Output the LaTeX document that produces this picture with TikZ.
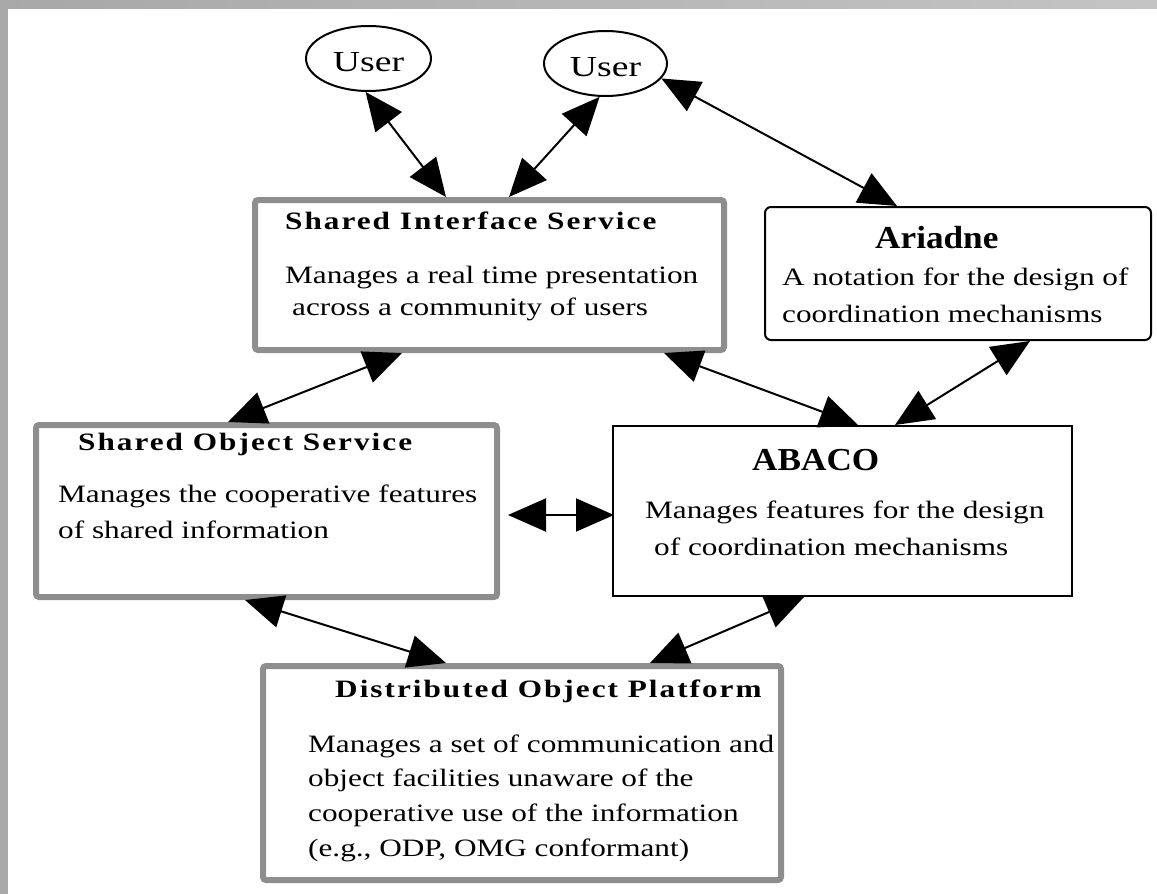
\documentclass[tikz,border=0pt]{standalone}
\usepackage{fontspec}
\setmainfont{Liberation Serif}[FakeStretch=1.25]
\newfontfamily\ttlfont{Liberation Serif}[FakeStretch=1.25,LetterSpace=8]
\newfontfamily\bigtfont{Liberation Serif}[FakeStretch=1.1]
\newfontfamily\userfont{Liberation Serif}[FakeStretch=1.3]
\usetikzlibrary{arrows.meta,shapes.geometric}
\definecolor{boxgray}{HTML}{8E8E8E}
\definecolor{framegray}{HTML}{A8A8A8}
\definecolor{framelight}{HTML}{C4C4C4}
\tikzset{
  graybox/.style={draw=boxgray,line width=6pt,rectangle,rounded corners=3pt,inner sep=0pt},
  blackbox/.style={draw=black,line width=2pt,rectangle,inner sep=0pt},
  usernode/.style={draw=black,line width=2pt,ellipse,inner sep=0pt,font=\fontsize{29}{30}\selectfont\userfont,text height=25pt,text depth=0pt},
  link/.style={line width=2pt,{Triangle[length=38pt,width=33pt]}-{Triangle[length=38pt,width=33pt]}},
  body/.style={anchor=base west,inner sep=0pt,font=\fontsize{25}{30}\selectfont},
  smalltitle/.style={anchor=base west,inner sep=0pt,font=\fontsize{25}{30}\selectfont\ttlfont\bfseries},
  bigtitle/.style={anchor=base west,inner sep=0pt,font=\fontsize{32}{36}\selectfont\bigtfont\bfseries}
}
\begin{document}
\begin{tikzpicture}[x=1pt,y=-1pt]
\useasboundingbox (0,0) rectangle (1157,894);
\fill[white] (0,0) rectangle (1157,894);
\shade[left color=framegray,right color=framelight] (0,0) rectangle (1157,8);
\fill[framegray] (0,0) rectangle (8,894);

% nodes
\node[usernode,minimum width=125pt,minimum height=65pt] (user1) at (368.5,58.5) {User};
\node[usernode,minimum width=123pt,minimum height=65pt] (user2) at (605.5,63.5) {User};
\node[graybox,minimum width=469pt,minimum height=150pt] (sis) at (489.5,275) {};
\node[blackbox,rounded corners=6pt,minimum width=386pt,minimum height=133pt] (ari) at (958,273.5) {};
\node[graybox,minimum width=461pt,minimum height=172pt] (sos) at (266.5,511) {};
\node[blackbox,minimum width=459pt,minimum height=170pt] (abaco) at (842.5,511) {};
\node[graybox,minimum width=518pt,minimum height=214pt] (dop) at (522,773) {};

% texts
\node[smalltitle] (sist) at (285,229) {Shared Interface Service};
\node[body] (sis1) at (285,283) {Manages a real time presentation};
\node[body] (sis2) at (292,315) {across a community of users};

\node[bigtitle] (arit) at (875,248) {Ariadne};
\node[body] (ari1) at (782,285) {A notation for the design of};
\node[body] (ari2) at (782,322) {coordination mechanisms};

\node[bigtitle] (abacot) at (752,470) {ABACO};
\node[body] (abaco1) at (645,518) {Manages features for the design};
\node[body] (abaco2) at (654,555) {of coordination mechanisms};

\node[smalltitle] (sost) at (78,450) {Shared Object Service};
\node[body] (sos1) at (58,502) {Manages the cooperative features};
\node[body] (sos2) at (58,538) {of shared information};

\node[smalltitle] (dopt) at (335,697) {Distributed Object Platform};
\node[body] (dop1) at (308,752) {Manages a set of communication and};
\node[body] (dop2) at (308,786) {object facilities unaware of the};
\node[body] (dop3) at (308,821) {cooperative use of the information};
\node[body] (dop4) at (308,856) {(e.g., ODP, OMG conformant)};

% connectors
\draw[link] (user1.-95) -- ([xshift=194pt]sis.north west);
\draw[link] (user2.-100) -- ([xshift=257pt]sis.north west);
\draw[link] (user2.-15) -- ([xshift=133pt]ari.north west);
\draw[link] ([xshift=195pt]sos.north west) -- ([xshift=150pt]sis.south west);
\draw[link] ([xshift=412pt]sis.south west) -- ([xshift=246pt]abaco.north west);
\draw[link] ([xshift=266pt]ari.south west) -- ([xshift=283pt]abaco.north west);
\draw[link] ([xshift=8pt,yshift=-4pt]sos.east) -- ([xshift=2pt,yshift=-4pt]abaco.west);
\draw[link] ([xshift=212pt]sos.south west) -- ([xshift=186pt]dop.north west);
\draw[link] ([xshift=192pt]abaco.south west) -- ([xshift=390pt]dop.north west);
\end{tikzpicture}
\end{document}
